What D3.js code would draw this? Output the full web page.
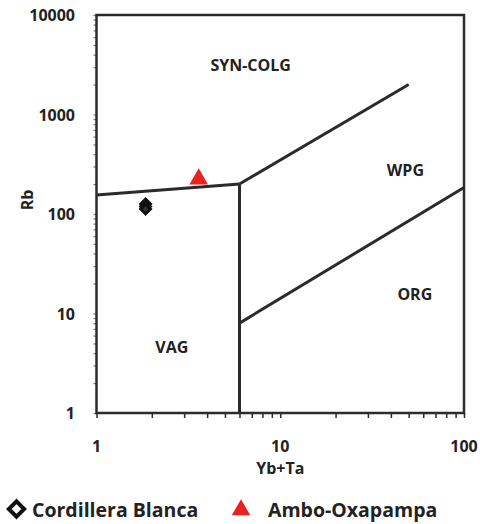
<!DOCTYPE html>
<html>
<head>
<meta charset="utf-8">
<script src="https://cdn.jsdelivr.net/npm/d3@7/dist/d3.min.js"></script>
<style>
  html, body { margin: 0; padding: 0; background: #fff; }
  svg { display: block; }
  text { font-family: "Open Sans", sans-serif; font-weight: 700; fill: #222; }
</style>
</head>
<body>
<svg id="chart" width="480" height="524"></svg>
<script>
// Pearce et al. (1984) Rb vs Yb+Ta tectonic discrimination diagram
const xTicks = [1, 10, 100];
const yTicks = [1, 10, 100, 1000, 10000];

// Field boundaries [Yb+Ta, Rb]
const synColgVagBoundary = [[1, 155], [6, 200]];
const synColgWpgBoundary = [[6, 200], [50, 2000]];
const vagBoundary = [[6, 1], [6, 200]];
const wpgOrgBoundary = [[6, 8], [100, 185]];

// Field names and their anchor points [Yb+Ta, Rb]
const fieldNames = ["SYN-COLG", "WPG", "ORG", "VAG"];
const fieldAnchors = [[6.9, 3160], [48, 277], [54, 15.7], [2.57, 4.6]];

// Samples
const cordilleraBlancaYbTa = [1.85, 1.85, 1.85];
const cordilleraBlancaRb = [126, 119, 112];
const amboOxapampaYbTa = [3.6];
const amboOxapampaRb = [230];

const svg = d3.select("#chart");
const plotLeft = 96.5, plotRight = 464, plotTop = 15, plotBottom = 413;

const x = d3.scaleLog().domain([1, 100]).range([plotLeft, plotRight]);
const y = d3.scaleLog().domain([1, 10000]).range([plotBottom, plotTop]);

const ink = "#2b2b2b";

// minor ticks for each decade
const xMinor = [];
for (let d = 1; d < 100; d *= 10) for (let k = 1; k < 10; k++) xMinor.push(d * k);
const yMinor = [];
for (let d = 1; d < 10000; d *= 10) for (let k = 1; k < 10; k++) yMinor.push(d * k);

// Bottom axis ticks
const xAxis = d3.axisBottom(x).tickValues(xMinor.concat([100])).tickFormat("").tickSize(5).tickSizeOuter(0);
const gx = svg.append("g").attr("transform", `translate(0,${plotBottom})`).call(xAxis);
gx.select(".domain").remove();
gx.selectAll("line").attr("stroke", ink).attr("stroke-width", 1.5);

// Left axis ticks
const yAxis = d3.axisLeft(y).tickValues(yMinor.concat([10000])).tickFormat("").tickSize(3).tickSizeOuter(0);
const gy = svg.append("g").attr("transform", `translate(${plotLeft},0)`).call(yAxis);
gy.select(".domain").remove();
gy.selectAll("line").attr("stroke", "#777").attr("stroke-width", 1.2);

// Plot frame
svg.append("rect")
  .attr("x", plotLeft).attr("y", plotTop)
  .attr("width", plotRight - plotLeft).attr("height", plotBottom - plotTop)
  .attr("fill", "none").attr("stroke", ink).attr("stroke-width", 2.5);

// Tick labels
svg.append("g").selectAll("text").data(xTicks).join("text")
  .attr("x", d => x(d)).attr("y", 446)
  .attr("text-anchor", "middle").attr("dominant-baseline", "central")
  .attr("font-size", 16).text(d => d);

svg.append("g").selectAll("text").data(yTicks).join("text")
  .attr("x", 75).attr("y", d => y(d))
  .attr("text-anchor", "end").attr("dominant-baseline", "central")
  .attr("font-size", 16).text(d => d);

// Axis titles
svg.append("text").attr("x", x(10)).attr("y", 468)
  .attr("text-anchor", "middle").attr("dominant-baseline", "central")
  .attr("font-size", 16).text("Yb+Ta");
svg.append("text").attr("transform", "translate(27,200) rotate(-90)")
  .attr("text-anchor", "middle").attr("dominant-baseline", "central")
  .attr("font-size", 16).text("Rb");

// Field boundaries
const line = d3.line().x(d => x(d[0])).y(d => y(d[1]));
[synColgVagBoundary, synColgWpgBoundary, vagBoundary, wpgOrgBoundary].forEach(seg => {
  svg.append("path").attr("d", line(seg))
    .attr("fill", "none").attr("stroke", ink).attr("stroke-width", 3)
    .attr("stroke-linecap", "butt");
});

// Field names
svg.append("g").selectAll("text").data(fieldNames).join("text")
  .attr("x", (d, i) => x(fieldAnchors[i][0]))
  .attr("y", (d, i) => y(fieldAnchors[i][1]))
  .attr("text-anchor", "middle").attr("dominant-baseline", "central")
  .attr("font-size", 16).text(d => d);

// Samples
const diamond = d3.symbol().type(d3.symbolDiamond2).size(60);
const triangle = d3.symbol().type(d3.symbolTriangle).size(150);

svg.append("g").selectAll("path").data(cordilleraBlancaYbTa).join("path")
  .attr("d", diamond)
  .attr("transform", (d, i) => `translate(${x(d)},${y(cordilleraBlancaRb[i])})`)
  .attr("fill", "#333").attr("stroke", "#111").attr("stroke-width", 3);

svg.append("g").selectAll("path").data(amboOxapampaYbTa).join("path")
  .attr("d", triangle)
  .attr("transform", (d, i) => `translate(${x(d)},${y(amboOxapampaRb[i]) + 1})`)
  .attr("fill", "#e8221f");

// Legend
const legend = svg.append("g").attr("transform", "translate(0,509)");
legend.append("path")
  .attr("d", d3.symbol().type(d3.symbolDiamond2).size(150))
  .attr("transform", "translate(16.5,0)")
  .attr("fill", "#fff").attr("stroke", "#111").attr("stroke-width", 4);
legend.append("text").attr("x", 32).attr("y", 0)
  .attr("dominant-baseline", "central").attr("font-size", 19.5)
  .text("Cordillera Blanca");
legend.append("path")
  .attr("d", d3.symbol().type(d3.symbolTriangle).size(150))
  .attr("transform", "translate(241,1)")
  .attr("fill", "#e8221f");
legend.append("text").attr("x", 268).attr("y", 0)
  .attr("dominant-baseline", "central").attr("font-size", 19.5)
  .text("Ambo-Oxapampa");
</script>
</body>
</html>
